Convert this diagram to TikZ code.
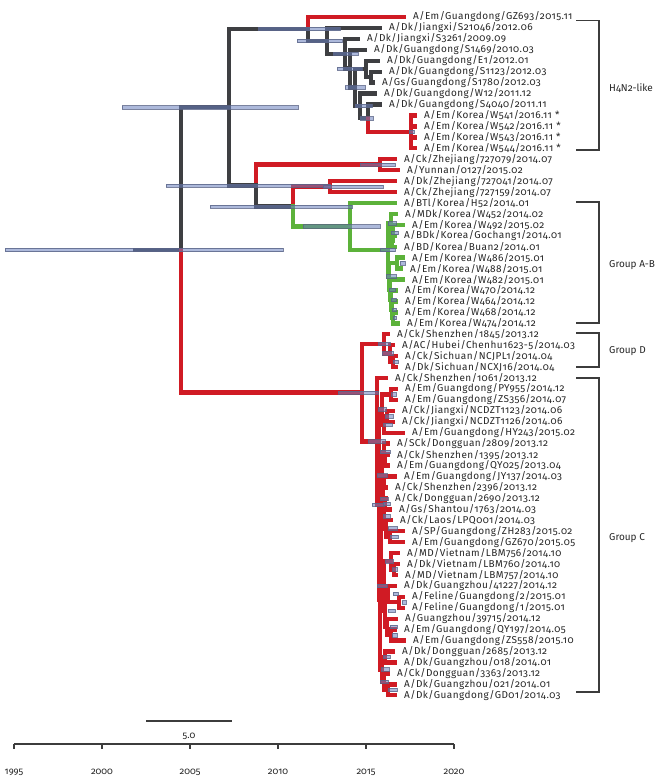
\documentclass[tikz,border=0pt]{standalone}
\usepackage{fontspec}
\setmainfont[Numbers=OldStyle]{Fira Sans}
\newfontfamily\labfont[Numbers=OldStyle,LetterSpace=4.5]{Fira Sans}
\usetikzlibrary{calc}
\definecolor{tred}{RGB}{208,27,36}
\definecolor{tdark}{RGB}{62,63,66}
\definecolor{tgreen}{RGB}{92,178,58}
\definecolor{cifill}{RGB}{105,128,190}
\definecolor{cidraw}{RGB}{90,100,135}
\definecolor{axgray}{RGB}{60,60,60}
\tikzset{
  br/.style={line width=4.4pt, line cap=rect, line join=miter},
  cibar/.style={fill=cifill, fill opacity=0.55, draw=cidraw, draw opacity=0.8, line width=0.6pt},
  lab/.style={anchor=west, inner sep=0pt, font=\labfont\fontsize{10}{10}\selectfont, text=black!85},
  grp/.style={anchor=west, inner sep=0pt, font=\fontsize{10}{10}\selectfont, text=black!85},
  yearlab/.style={inner sep=0pt, font=\fontsize{9.5}{10}\selectfont, text=black!85},
  brk/.style={draw=axgray, line width=1.1pt},
  axline/.style={draw=axgray, line width=1.1pt},
}
\newcommand{\lf}[4]{\coordinate (#1) at (#2,#3); \node[lab] (#1t) at ($(#1)+(9,0)$) {#4};}
\newcommand{\nd}[3]{\coordinate (#1) at (#2,#3);}
\newcommand{\cib}[3]{\draw[cibar] ($(#2,0 |- #1)+(0,-1.7)$) rectangle ($(#3,0 |- #1)+(0,1.7)$);}
\begin{document}
\begin{tikzpicture}[x=1pt,y=-1pt]
\useasboundingbox (0,0) rectangle (665,779);
% ---------- leaves
\lf{l0}{404}{17.00}{A/Em/Guangdong/GZ693/2015.11}
\lf{l1}{380}{27.94}{A/Dk/Jiangxi/S21046/2012.06}
\lf{l2}{358}{38.88}{A/Dk/Jiangxi/S3261/2009.09}
\lf{l3}{365}{49.82}{A/Dk/Guangdong/S1469/2010.03}
\lf{l4}{378}{60.76}{A/Dk/Guangdong/E1/2012.01}
\lf{l5}{380}{71.70}{A/Dk/Guangdong/S1123/2012.03}
\lf{l6}{373}{82.64}{A/Gs/Guangdong/S1780/2012.03}
\lf{l7}{375}{93.58}{A/Dk/Guangdong/W12/2011.12}
\lf{l8}{380}{104.52}{A/Dk/Guangdong/S4040/2011.11}
\lf{l9}{415}{115.46}{A/Em/Korea/W541/2016.11 *}
\lf{l10}{415}{126.40}{A/Em/Korea/W542/2016.11 *}
\lf{l11}{415}{137.34}{A/Em/Korea/W543/2016.11 *}
\lf{l12}{415}{148.28}{A/Em/Korea/W544/2016.11 *}
\lf{l13}{395}{159.22}{A/Ck/Zhejiang/727079/2014.07}
\lf{l14}{398}{170.16}{A/Yunnan/0127/2015.02}
\lf{l15}{395}{181.10}{A/Dk/Zhejiang/727041/2014.07}
\lf{l16}{395}{192.04}{A/Ck/Zhejiang/727159/2014.07}
\lf{l17}{395}{202.98}{A/BTl/Korea/H52/2014.01}
\lf{l18}{396}{213.92}{A/MDk/Korea/W452/2014.02}
\lf{l19}{403}{224.86}{A/Em/Korea/W492/2015.02}
\lf{l20}{395}{235.80}{A/BDk/Korea/Gochang1/2014.01}
\lf{l21}{395}{246.74}{A/BD/Korea/Buan2/2014.01}
\lf{l22}{403}{257.68}{A/Em/Korea/W486/2015.01}
\lf{l23}{401}{268.62}{A/Em/Korea/W488/2015.01}
\lf{l24}{403}{279.56}{A/Em/Korea/W482/2015.01}
\lf{l25}{396}{290.50}{A/Em/Korea/W470/2014.12}
\lf{l26}{396}{301.44}{A/Em/Korea/W464/2014.12}
\lf{l27}{396}{312.38}{A/Em/Korea/W468/2014.12}
\lf{l28}{398}{323.32}{A/Em/Korea/W474/2014.12}
\lf{l29}{388}{334.26}{A/Ck/Shenzhen/1845/2013.12}
\lf{l30}{393}{345.20}{A/AC/Hubei/Chenhu1623-5/2014.03}
\lf{l31}{396}{356.14}{A/Ck/Sichuan/NCJPL1/2014.04}
\lf{l32}{396}{367.08}{A/Dk/Sichuan/NCXJ16/2014.04}
\lf{l33}{386}{378.02}{A/Ck/Shenzhen/1061/2013.12}
\lf{l34}{396}{388.96}{A/Em/Guangdong/PY955/2014.12}
\lf{l35}{396}{399.90}{A/Em/Guangdong/ZS356/2014.07}
\lf{l36}{393}{410.84}{A/Ck/Jiangxi/NCDZT1123/2014.06}
\lf{l37}{393}{421.78}{A/Ck/Jiangxi/NCDZT1126/2014.06}
\lf{l38}{403}{432.72}{A/Em/Guangdong/HY243/2015.02}
\lf{l39}{388}{443.66}{A/SCk/Dongguan/2809/2013.12}
\lf{l40}{388}{454.60}{A/Ck/Shenzhen/1395/2013.12}
\lf{l41}{388}{465.54}{A/Em/Guangdong/QY025/2013.04}
\lf{l42}{395}{476.48}{A/Em/Guangdong/JY137/2014.03}
\lf{l43}{386}{487.42}{A/Ck/Shenzhen/2396/2013.12}
\lf{l44}{386}{498.36}{A/Ck/Dongguan/2690/2013.12}
\lf{l45}{390}{509.30}{A/Gs/Shantou/1763/2014.03}
\lf{l46}{391}{520.24}{A/Ck/Laos/LPQ001/2014.03}
\lf{l47}{403}{531.18}{A/SP/Guangdong/ZH283/2015.02}
\lf{l48}{403}{542.12}{A/Em/Guangdong/GZ670/2015.05}
\lf{l49}{398}{553.06}{A/MD/Vietnam/LBM756/2014.10}
\lf{l50}{398}{564.00}{A/Dk/Vietnam/LBM760/2014.10}
\lf{l51}{396}{574.94}{A/MD/Vietnam/LBM757/2014.10}
\lf{l52}{395}{585.88}{A/Dk/Guangzhou/41227/2014.12}
\lf{l53}{403}{596.82}{A/Feline/Guangdong/2/2015.01}
\lf{l54}{403}{607.76}{A/Feline/Guangdong/1/2015.01}
\lf{l55}{396}{618.70}{A/Guangzhou/39715/2014.12}
\lf{l56}{395}{629.64}{A/Em/Guangdong/QY197/2014.05}
\lf{l57}{404}{640.58}{A/Em/Guangdong/ZS558/2015.10}
\lf{l58}{393}{651.52}{A/Dk/Dongguan/2685/2013.12}
\lf{l59}{395}{662.46}{A/Dk/Guangzhou/018/2014.01}
\lf{l60}{388}{673.40}{A/Ck/Dongguan/3363/2013.12}
\lf{l61}{395}{684.34}{A/Dk/Guangzhou/021/2014.01}
\lf{l62}{395}{695.28}{A/Dk/Guangdong/GD01/2014.03}
% ---------- internal nodes
\nd{rootstem}{135}{249.94}
\nd{R0}{181}{249.94}
\nd{A}{229}{107.27}
\nd{N1}{308}{28.93}
\nd{N2}{327}{40.85}
\nd{N3}{345}{53.76}
\nd{N4}{350}{68.63}
\nd{N6}{355}{87.43}
\nd{N5}{366}{68.97}
\nd{N5b}{371}{77.17}
\nd{N7}{360}{105.89}
\nd{N8}{368}{118.20}
\nd{K}{411}{131.87}
\nd{B}{256}{185.61}
\nd{E}{380}{164.69}
\nd{C}{293}{206.53}
\nd{D}{330}{186.57}
\nd{G}{350}{226.48}
\nd{H}{388}{249.99}
\nd{H1}{391}{223.49}
\nd{H1b}{393}{233.07}
\nd{H1c}{392}{241.27}
\nd{H2}{389}{276.48}
\nd{H2a}{397}{263.15}
\nd{H2b}{390}{289.82}
\nd{H2c}{391}{300.07}
\nd{H2d}{392}{309.65}
\nd{H2e}{393}{317.85}
\nd{R}{362}{392.60}
\nd{Dn}{384}{343.83}
\nd{D2}{390}{353.41}
\nd{D3}{393}{361.61}
\nd{Cn}{377}{441.38}
\nd{C2}{379}{504.73}
\nd{Ca}{382}{409.47}
\nd{Ca1}{391}{394.43}
\nd{Ca2}{384}{424.52}
\nd{Ca3}{387}{416.31}
\nd{Cb}{380}{599.99}
\nd{Cb1p}{381}{530.67}
\nd{Cb1}{382}{475.46}
\nd{P}{384}{451.87}
\nd{P1}{385}{460.07}
\nd{Q}{383}{499.05}
\nd{Q1}{384}{481.95}
\nd{Q2}{384}{516.14}
\nd{Q3}{384.5}{503.83}
\nd{Q4}{386}{528.45}
\nd{Q5}{390}{536.65}
\nd{Cg}{384}{585.88}
\nd{Cg1}{391}{561.27}
\nd{Cg1b}{394}{569.47}
\nd{Cg2}{385}{610.50}
\nd{Cg3}{388}{594.09}
\nd{Fel}{399}{602.29}
\nd{Cg4}{387}{626.91}
\nd{Cg5}{391}{635.11}
\nd{Ce}{382}{669.30}
\nd{Ce1}{385}{656.99}
\nd{Ce2}{384}{681.61}
\nd{Ce3}{388}{689.81}
% ---------- branches
\draw[br,tdark] (rootstem) -- (R0);
\foreach \p/\c/\col in {
  R0/A/tdark, R0/R/tred, A/N1/tdark, A/B/tdark,
  N1/l0/tred, N1/N2/tdark, N2/l1/tdark, N2/N3/tdark, N3/l2/tdark, N3/N4/tdark,
  N4/l3/tdark, N4/N6/tdark, N6/N5/tdark, N6/N7/tdark, N5/l4/tdark, N5/N5b/tdark,
  N5b/l5/tdark, N5b/l6/tdark, N7/l7/tdark, N7/N8/tdark, N8/l8/tdark, N8/K/tred,
  K/l9/tred, K/l10/tred, K/l11/tred, K/l12/tred,
  B/E/tred, B/C/tdark, E/l13/tred, E/l14/tred, C/D/tred, C/G/tgreen,
  D/l15/tred, D/l16/tred, G/l17/tgreen, G/H/tgreen,
  H/H1/tgreen, H/H2/tgreen, H1/l18/tgreen, H1/H1b/tgreen, H1b/l19/tgreen, H1b/H1c/tgreen,
  H1c/l20/tgreen, H1c/l21/tgreen, H2/H2a/tgreen, H2/H2b/tgreen, H2a/l22/tgreen, H2a/l23/tgreen,
  H2b/l24/tgreen, H2b/H2c/tgreen, H2c/l25/tgreen, H2c/H2d/tgreen, H2d/l26/tgreen, H2d/H2e/tgreen,
  H2e/l27/tgreen, H2e/l28/tgreen,
  R/Dn/tred, R/Cn/tred, Dn/l29/tred, Dn/D2/tred, D2/l30/tred, D2/D3/tred, D3/l31/tred, D3/l32/tred,
  Cn/l33/tred, Cn/C2/tred, C2/Ca/tred, C2/Cb/tred, Ca/Ca1/tred, Ca/Ca2/tred,
  Ca1/l34/tred, Ca1/l35/tred, Ca2/Ca3/tred, Ca2/l38/tred, Ca3/l36/tred, Ca3/l37/tred,
  Cb/Cb1p/tred, Cb/Ce/tred, Cb1p/Cb1/tred, Cb1p/Cg/tred, Cb1/P/tred, Cb1/Q/tred,
  P/l39/tred, P/P1/tred, P1/l40/tred, P1/l41/tred, Q/Q1/tred, Q/Q2/tred,
  Q1/l42/tred, Q1/l43/tred, Q2/Q3/tred, Q2/Q4/tred, Q3/l44/tred, Q3/l45/tred,
  Q4/l46/tred, Q4/Q5/tred, Q5/l47/tred, Q5/l48/tred,
  Cg/Cg1/tred, Cg/Cg2/tred, Cg1/l49/tred, Cg1/Cg1b/tred, Cg1b/l50/tred, Cg1b/l51/tred,
  Cg2/Cg3/tred, Cg2/Cg4/tred, Cg3/l52/tred, Cg3/Fel/tred, Fel/l53/tred, Fel/l54/tred,
  Cg4/l55/tred, Cg4/Cg5/tred, Cg5/l56/tred, Cg5/l57/tred,
  Ce/Ce1/tred, Ce/Ce2/tred, Ce1/l58/tred, Ce1/l59/tred, Ce2/l60/tred, Ce2/Ce3/tred,
  Ce3/l61/tred, Ce3/l62/tred}
  {\draw[br,\col] (\p) |- (\c);}
% ---------- confidence bars
\foreach \n/\a/\b in {R0/5/283, A/122/298, N1/258/340, N2/297/342, N3/333/358, N4/337/362,
  N6/345/365, N7/355/372, N8/360/373, K/409/414, B/166/330, C/210/352, D/323/383, E/360/395,
  G/303/380, H/380/395, H1/388/396, H1b/391/398, H2a/400/405, H2/386/396, H2b/389/395,
  H2c/391/396, H2d/392/396, H2e/393/396, R/338/378, Dn/378/390, D2/382/393, D3/393/398,
  Cn/368/385, C2/372/384, Ca/378/386, Ca1/391/396, Ca2/383/392, Ca3/385/393,
  P/380/390, Cb1/377/387, Q/380/388, Q2/383/390, Q3/383/390, Q4/388/397, Q5/390/398,
  Cg/377/387, Cg1/385/393, Cg1b/392/397, Cg2/388/395, Cg3/393/398, Fel/402/406,
  Cg4/390/397, Cg5/392/397, Ce/381/389, Ce1/383/390, Ce2/380/388, Ce3/388/397}
  {\cib{\n}{\a}{\b}}
% ---------- brackets
\coordinate (bh1) at (576,20.5); \coordinate (bh2) at (599,20.5);
\coordinate (bh3) at (599,150); \coordinate (bh4) at (576,150);
\draw[brk] (bh1) -- (bh2) -- (bh3) -- (bh4);
\node[grp] (gH) at (609,88) {H4N2-like};
\coordinate (ba1) at (576,202); \coordinate (ba2) at (599,202);
\coordinate (ba3) at (599,323); \coordinate (ba4) at (576,323);
\draw[brk] (ba1) -- (ba2) -- (ba3) -- (ba4);
\node[grp] (gAB) at (609,265) {Group A-B};
\coordinate (bd1) at (576,333); \coordinate (bd2) at (599,333);
\coordinate (bd3) at (599,367); \coordinate (bd4) at (576,367);
\draw[brk] (bd1) -- (bd2) -- (bd3) -- (bd4);
\node[grp] (gD) at (609,351) {Group D};
\coordinate (bc1) at (576,378); \coordinate (bc2) at (599,378);
\coordinate (bc3) at (599,692); \coordinate (bc4) at (576,692);
\draw[brk] (bc1) -- (bc2) -- (bc3) -- (bc4);
\node[grp] (gC) at (609,538) {Group C};
% ---------- scale bar and axis
\coordinate (sb0) at (146,721); \coordinate (sb1) at (232,721);
\draw[axline] (sb0) -- (sb1);
\node[yearlab] (sbl) at (189,736) {5.0};
\coordinate (ax0) at (14,744); \coordinate (ax5) at (454,744);
\draw[axline] (ax0) -- (ax5);
\foreach \k/\yr in {0/1995,1/2000,2/2005,3/2010,4/2015,5/2020}{
  \coordinate (tk\k) at ({14+88*\k},744);
  \draw[axline] (tk\k) -- ++(0,5);
  \node[yearlab] (yl\k) at ({14+88*\k},772) {\yr};
}
\end{tikzpicture}
\end{document}
